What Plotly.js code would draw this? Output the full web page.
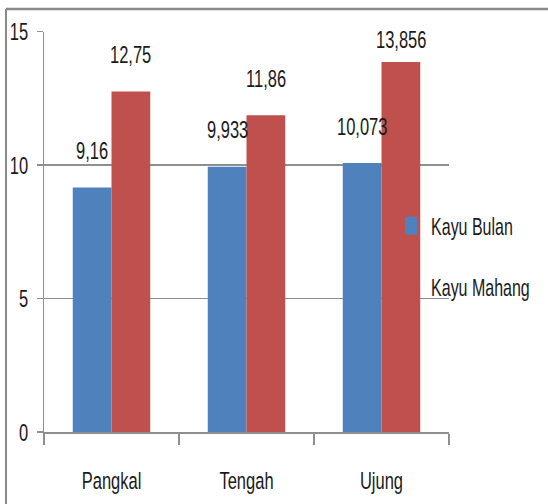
<!DOCTYPE html>
<html>
<head>
<meta charset="utf-8">
<script src="https://cdn.plot.ly/plotly-3.0.1.min.js"></script>
<style>
html,body{margin:0;padding:0;background:#fff;overflow:hidden;width:548px;height:504px;}
#chart{width:548px;height:336px;transform:scale(1,1.5);transform-origin:0 0;}
</style>
</head>
<body>
<div id="chart"></div>
<script>
var categories = ["Pangkal", "Tengah", "Ujung"];
var kayuBulan = [9.16, 9.933, 10.073];
var kayuMahang = [12.75, 11.86, 13.856];
var labelsBulan = ["9,16", "9,933", "10,073"];
var labelsMahang = ["12,75", "11,86", "13,856"];
var seriesNames = ["Kayu Bulan", "Kayu Mahang"];
var yTicks = [0, 5, 10, 15];

var FONT = "Liberation Sans, Arial, sans-serif";
var blue = "#4F81BD", red = "#C0504D", grid = "#8f8f8f";

var traces = [
  {type: "bar", name: seriesNames[0], x: categories, y: kayuBulan,
   marker: {color: blue, line: {width: 0}}, legendgroup: "a", hoverinfo: "none"},
  {type: "bar", name: seriesNames[1], x: categories, y: kayuMahang,
   marker: {color: red, line: {width: 0}}, legendgroup: "b", hoverinfo: "none"}
];

// label offset above bar top (px), styling only
var off = 0.1435;
var shiftBulan = [14, 14, 14];
var shiftMahang = [14, 14, 4];
var annotations = [];
categories.forEach(function (c, i) {
  annotations.push({x: i - off, y: kayuBulan[i], xref: "x", yref: "y", text: labelsBulan[i],
    showarrow: false, yanchor: "bottom", yshift: shiftBulan[i],
    font: {family: FONT, size: 16.5, color: "#1a1a1a"}});
  annotations.push({x: i + off, y: kayuMahang[i], xref: "x", yref: "y", text: labelsMahang[i],
    showarrow: false, yanchor: "bottom", yshift: shiftMahang[i],
    font: {family: FONT, size: 16.5, color: "#1a1a1a"}});
});

var layout = {
  width: 548, height: 336,
  margin: {l: 44, r: 99, t: 20.67, b: 48, pad: 0},
  paper_bgcolor: "#ffffff", plot_bgcolor: "#ffffff",
  font: {family: FONT, size: 16.5, color: "#1a1a1a"},
  barmode: "group", bargap: 0.426, bargroupgap: 0,
  showlegend: true,
  legend: {x: 0.857, xanchor: "left", y: 0.438, yanchor: "middle",
    bgcolor: "rgba(0,0,0,0)", borderwidth: 0,
    traceorder: "grouped", tracegroupgap: 17,
    font: {family: FONT, size: 16, color: "#1a1a1a"}},
  xaxis: {type: "category", showline: true, linecolor: grid, linewidth: 1.3,
    ticks: "outside", ticklen: 7.3, tickcolor: grid, tickwidth: 1.5,
    tickson: "boundaries", showgrid: false, zeroline: false,
    tickfont: {family: FONT, size: 16.5, color: "#1a1a1a"}, ticklabelstandoff: 17,
    fixedrange: true},
  yaxis: {range: [0, 15], tickvals: yTicks, ticktext: yTicks.map(String),
    showline: true, linecolor: grid, linewidth: 1.5,
    ticks: "outside", ticklen: 6, tickcolor: grid, tickwidth: 1.3,
    showgrid: true, gridcolor: grid, gridwidth: 1.3, zeroline: false,
    tickfont: {family: FONT, size: 16.5, color: "#1a1a1a"}, ticklabelstandoff: 5,
    fixedrange: true},
  annotations: annotations,
  shapes: [
    {type: "line", xref: "paper", yref: "paper", x0: -0.0938, x1: 1.26, y0: 1.0561, y1: 1.0561,
     line: {color: "#8a8a8a", width: 1.7}},
    {type: "line", xref: "paper", yref: "paper", x0: -0.0938, x1: -0.0938, y0: 1.0561, y1: -0.2,
     line: {color: "#8a8a8a", width: 2}}
  ]
};

Plotly.newPlot("chart", traces, layout, {displayModeBar: false, staticPlot: true});
</script>
</body>
</html>
